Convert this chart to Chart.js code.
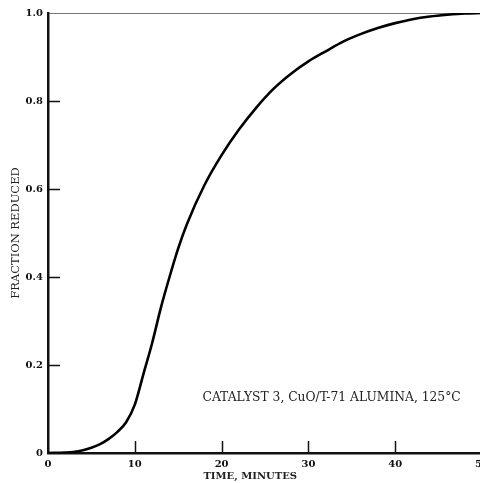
<!DOCTYPE html>
<html>
<head>
<meta charset="utf-8">
<script src="https://cdn.jsdelivr.net/npm/chart.js@4.4.1/dist/chart.umd.min.js"></script>
<style>
  html, body { margin: 0; padding: 0; background: #fff; overflow: hidden; }
  #wrap { width: 490px; height: 483px; position: relative; }
</style>
</head>
<body>
<div id="wrap"><canvas id="chart"></canvas></div>
<script>
// time (minutes) and fraction reduced
const timeMin = [0, 2, 3.5, 5, 6, 7, 8, 9, 10, 11, 12, 13, 14, 15, 16, 18, 20, 22, 24, 26, 28, 30, 32, 34, 36, 38, 40, 42, 44, 46, 48, 50];
const fraction = [0, 0.001, 0.004, 0.012, 0.02, 0.032, 0.048, 0.07, 0.11, 0.18, 0.25, 0.33, 0.4, 0.465, 0.52, 0.608, 0.677, 0.735, 0.785, 0.828, 0.862, 0.89, 0.913, 0.935, 0.952, 0.966, 0.977, 0.986, 0.992, 0.996, 0.999, 1.0];

const xTicks = [0, 10, 20, 30, 40, 50];
const xTickLabels = ['0', '10', '20', '30', '40', '50'];
const yTicks = [0, 0.2, 0.4, 0.6, 0.8, 1.0];
const yTickLabels = ['0', '0.2', '0.4', '0.6', '0.8', '1.0'];

const xTitle = 'TIME, MINUTES';
const yTitle = 'FRACTION REDUCED';
const note = 'CATALYST 3, CuO/T-71 ALUMINA, 125°C';

const SERIF = '"DejaVu Serif", "Liberation Serif", serif';

// short tick marks pointing into the plot, plus the two free texts
const extras = {
    id: 'extras',
    afterDatasetsDraw(chart) {
        const { ctx, chartArea, scales: { x, y } } = chart;
        ctx.save();
        ctx.strokeStyle = '#111';
        ctx.lineWidth = 1.5;
        ctx.beginPath();
        yTicks.slice(1, -1).forEach(v => {
            const py = Math.round(y.getPixelForValue(v)) + 0.5;
            ctx.moveTo(chartArea.left, py);
            ctx.lineTo(chartArea.left + 12, py);
        });
        xTicks.slice(1, -1).forEach(v => {
            const px = Math.round(x.getPixelForValue(v)) + 0.5;
            ctx.moveTo(px, chartArea.bottom);
            ctx.lineTo(px, chartArea.bottom - 12);
        });
        ctx.stroke();

        ctx.fillStyle = '#222';
        ctx.font = `12.3px ${SERIF}`;
        ctx.textAlign = 'left';
        ctx.textBaseline = 'middle';
        ctx.fillText(note, x.getPixelForValue(17.8), y.getPixelForValue(0.125));

        ctx.font = `bold 10px ${SERIF}`;
        ctx.textAlign = 'center';
        ctx.fillText(xTitle, x.getPixelForValue(23.3), 476);
        ctx.restore();
    }
};

const ctx = document.getElementById('chart').getContext('2d');
new Chart(ctx, {
    type: 'line',
    data: {
        labels: timeMin,
        datasets: [{
            data: timeMin.map((t, i) => ({ x: t, y: fraction[i] })),
            borderColor: '#000',
            borderWidth: 2.6,
            pointRadius: 0,
            fill: false,
            cubicInterpolationMode: 'monotone'
        }]
    },
    options: {
        responsive: true,
        maintainAspectRatio: false,
        animation: false,
        devicePixelRatio: 1,
        layout: { padding: { top: 13, right: 8, left: 0, bottom: 0 } },
        plugins: { legend: { display: false }, tooltip: { enabled: false } },
        scales: {
            x: {
                type: 'linear',
                min: 0, max: 50,
                afterBuildTicks: s => { s.ticks = xTicks.map(v => ({ value: v })); },
                afterFit: s => { s.height = 30; s.paddingLeft = 0; s.paddingRight = 0; },
                ticks: {
                    padding: 5,
                    color: '#111',
                    font: { family: SERIF, size: 10, weight: 'bold' },
                    callback: v => xTickLabels[xTicks.indexOf(v)]
                },
                grid: { display: false, drawTicks: false },
                border: { display: true, color: '#111', width: 2.5 }
            },
            y: {
                min: 0, max: 1,
                afterBuildTicks: s => { s.ticks = yTicks.map(v => ({ value: v })); },
                afterFit: s => { s.width = 48; s.paddingTop = 0; s.paddingBottom = 0; },
                ticks: {
                    padding: 5,
                    color: '#111',
                    font: { family: SERIF, size: 10, weight: 'bold' },
                    callback: v => yTickLabels[yTicks.indexOf(v)]
                },
                grid: {
                    drawTicks: false,
                    drawOnChartArea: true,
                    lineWidth: 1,
                    color: c => (c.tick && c.tick.value === 1) ? '#777' : 'rgba(0,0,0,0)'
                },
                border: { display: true, color: '#111', width: 2.5 },
                title: {
                    display: true,
                    text: yTitle,
                    color: '#222',
                    font: { family: SERIF, size: 11.5 },
                    padding: { top: 9, bottom: 0 }
                }
            }
        }
    },
    plugins: [extras]
});
</script>
</body>
</html>
